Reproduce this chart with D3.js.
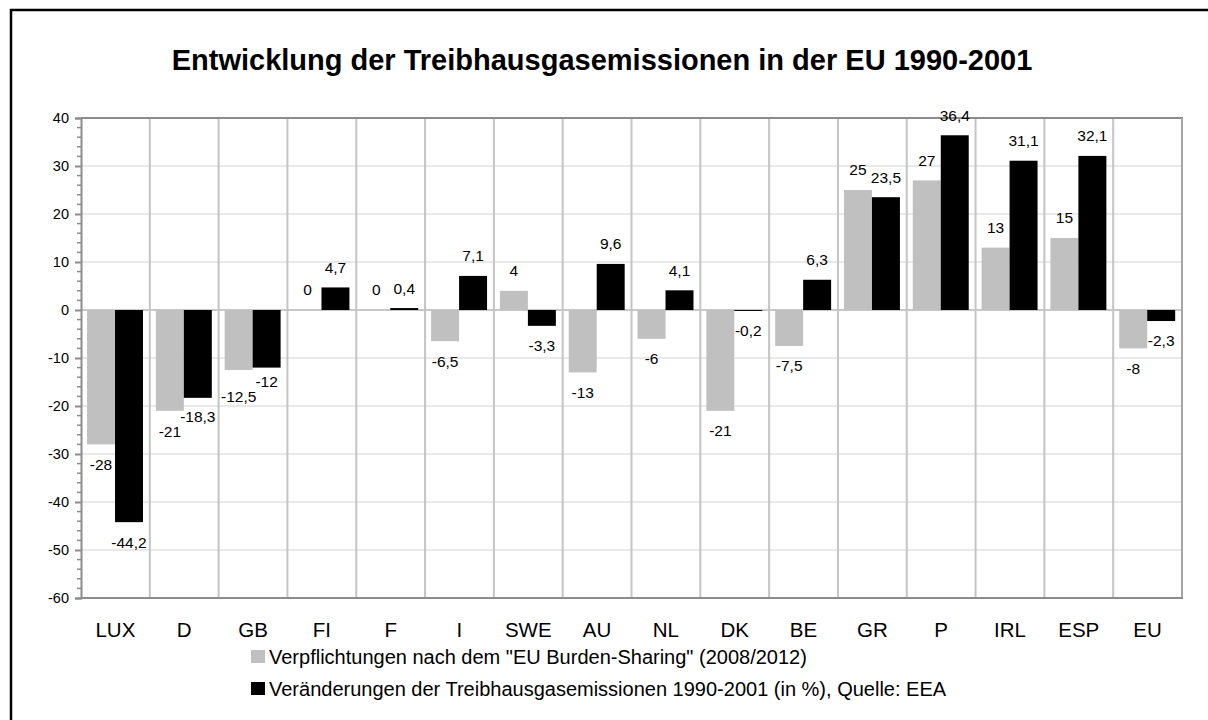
<!DOCTYPE html>
<html>
<head>
<meta charset="utf-8">
<script src="https://cdn.jsdelivr.net/npm/d3@7"></script>
<style>
  body { margin: 0; background: #fff; }
  svg { display: block; font-family: Arial, "Liberation Sans", sans-serif; }
</style>
</head>
<body>
<div id="chart"></div>
<script>
const categories = ['LUX', 'D', 'GB', 'FI', 'F', 'I', 'SWE', 'AU', 'NL', 'DK', 'BE', 'GR', 'P', 'IRL', 'ESP', 'EU'];
const burdenSharing = [-28, -21, -12.5, 0, 0, -6.5, 4, -13, -6, -21, -7.5, 25, 27, 13, 15, -8];
const emissionChange = [-44.2, -18.3, -12, 4.7, 0.4, 7.1, -3.3, 9.6, 4.1, -0.2, 6.3, 23.5, 36.4, 31.1, 32.1, -2.3];
const yTicks = [40, 30, 20, 10, 0, -10, -20, -30, -40, -50, -60];
const seriesNames = [
  'Verpflichtungen nach dem "EU Burden-Sharing" (2008/2012)',
  'Veränderungen der Treibhausgasemissionen 1990-2001 (in %), Quelle: EEA'
];
const seriesColors = ['#c0c0c0', '#000000'];

const width = 1208, height = 720;
const plot = { left: 81, right: 1182, top: 118, bottom: 598 };

const svg = d3.select('#chart')
  .append('svg')
  .attr('width', width)
  .attr('height', height);

// outer frame (runs off the right and bottom edge)
svg.append('rect')
  .attr('x', 11).attr('y', 10)
  .attr('width', 1220).attr('height', 730)
  .attr('fill', '#fff')
  .attr('stroke', '#000')
  .attr('stroke-width', 2.5);

svg.append('text')
  .attr('x', 602)
  .attr('y', 70)
  .attr('text-anchor', 'middle')
  .style('font-size', '29px')
  .style('font-weight', 'bold')
  .text('Entwicklung der Treibhausgasemissionen in der EU 1990-2001');

const x = d3.scaleBand()
  .domain(categories)
  .range([plot.left, plot.right]);

// two bars per category, ~28px each
const xInner = d3.scaleBand()
  .domain([0, 1])
  .range([0, x.bandwidth()])
  .paddingInner(0)
  .paddingOuter(0.23)
  .align(0.47);

const y = d3.scaleLinear().domain([-60, 40]).range([plot.bottom, plot.top]);

// horizontal gridlines
svg.append('g')
  .selectAll('line')
  .data(yTicks)
  .join('line')
  .attr('x1', plot.left).attr('x2', plot.right)
  .attr('y1', d => y(d)).attr('y2', d => y(d))
  .attr('stroke', d => (d === 0 ? '#c8c8c8' : '#d4d4d4'))
  .attr('stroke-width', d => (d === 0 ? 2 : 1.2));

// vertical gridlines between categories
svg.append('g')
  .selectAll('line')
  .data(categories.slice(1))
  .join('line')
  .attr('x1', d => x(d)).attr('x2', d => x(d))
  .attr('y1', plot.top).attr('y2', plot.bottom)
  .attr('stroke', '#c4c4c4')
  .attr('stroke-width', 2);

// plot frame: top, right, bottom
svg.append('line')
  .attr('x1', plot.left).attr('x2', plot.right + 1)
  .attr('y1', plot.top).attr('y2', plot.top)
  .attr('stroke', '#8c8c8c').attr('stroke-width', 2);
svg.append('line')
  .attr('x1', plot.right).attr('x2', plot.right)
  .attr('y1', plot.top).attr('y2', plot.bottom)
  .attr('stroke', '#a6a6a6').attr('stroke-width', 2);
svg.append('line')
  .attr('x1', plot.left).attr('x2', plot.right + 1)
  .attr('y1', plot.bottom).attr('y2', plot.bottom)
  .attr('stroke', '#8c8c8c').attr('stroke-width', 2);

// bars
const series = [burdenSharing, emissionChange];
series.forEach((values, i) => {
  svg.append('g')
    .selectAll('rect')
    .data(values)
    .join('rect')
    .attr('x', (d, j) => x(categories[j]) + xInner(i))
    .attr('width', xInner.bandwidth())
    .attr('y', d => y(Math.max(0, d)))
    .attr('height', d => Math.abs(y(d) - y(0)))
    .attr('fill', seriesColors[i]);
});

// value labels
const fmt = d => String(d).replace('.', ',');
const labelGroups = series.map((values, i) =>
  svg.append('g')
    .selectAll('text')
    .data(values)
    .join('text')
    .attr('x', (d, j) => x(categories[j]) + xInner(i) + xInner.bandwidth() / 2)
    .attr('y', d => (d >= 0 ? y(d) - 20 : y(d) + 20))
    .attr('dy', '0.35em')
    .attr('text-anchor', 'middle')
    .style('font-size', '15.5px')
    .style('fill', '#000')
    .text(fmt)
    .nodes()
);

// push apart labels of one category that would collide
categories.forEach((c, j) => {
  const a = labelGroups[0][j], b = labelGroups[1][j];
  const ba = a.getBBox(), bb = b.getBBox();
  const overlapX = ba.x + ba.width > bb.x && bb.x + bb.width > ba.x;
  const ya = +a.getAttribute('y'), yb = +b.getAttribute('y');
  if (overlapX && Math.abs(ya - yb) < 15) {
    const mid = (ya + yb) / 2;
    const sign = ya >= yb ? 1 : -1;
    a.setAttribute('y', mid + sign * 7.5);
    b.setAttribute('y', mid - sign * 7.5);
  }
});

// y axis
const yAxis = d3.axisLeft(y)
  .tickValues(yTicks)
  .tickSize(6)
  .tickPadding(6)
  .tickFormat(d => d);

const yG = svg.append('g')
  .attr('transform', `translate(${plot.left},0)`)
  .call(yAxis);
yG.select('.domain').attr('stroke', '#8c8c8c').attr('stroke-width', 2);
yG.selectAll('.tick line').attr('stroke', '#8c8c8c').attr('stroke-width', 2);
yG.selectAll('.tick text')
  .style('font-size', '14.5px')
  .style('font-family', 'Arial, "Liberation Sans", sans-serif')
  .attr('fill', '#000');

// minor ticks every 2 units
svg.append('g')
  .selectAll('line')
  .data(d3.range(-60, 41, 2).filter(d => d % 10 !== 0))
  .join('line')
  .attr('x1', plot.left - 4).attr('x2', plot.left)
  .attr('y1', d => y(d)).attr('y2', d => y(d))
  .attr('stroke', '#8c8c8c')
  .attr('stroke-width', 1.5);

// category labels
svg.append('g')
  .selectAll('text')
  .data(categories)
  .join('text')
  .attr('x', d => x(d) + x.bandwidth() / 2)
  .attr('y', 637)
  .attr('text-anchor', 'middle')
  .style('font-size', '20.5px')
  .text(d => d);

// legend
const legend = svg.append('g').attr('transform', 'translate(251,650)');
seriesNames.forEach((name, i) => {
  const row = legend.append('g').attr('transform', `translate(0,${i * 32})`);
  row.append('rect')
    .attr('x', 0).attr('y', 0)
    .attr('width', 14).attr('height', 13)
    .attr('fill', seriesColors[i]);
  row.append('text')
    .attr('x', 18).attr('y', 13.5)
    .style('font-size', '20px')
    .text(name);
});
</script>
</body>
</html>
